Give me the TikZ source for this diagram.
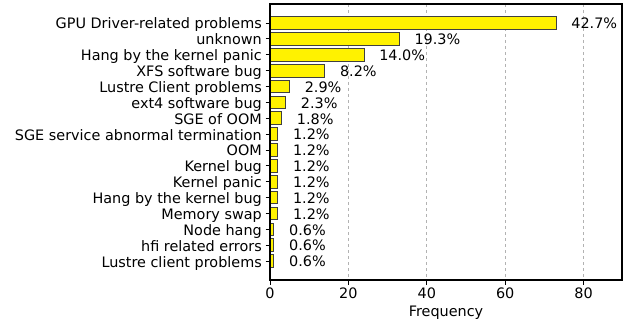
\documentclass[tikz,border=0pt]{standalone}
\usepackage{fontspec}
\setmainfont{DejaVu Sans}

\tikzset{
	bar/.style={draw=black!75,fill=yellow,line width=0.9pt},
	gridline/.style={black!30,dashed,line width=0.8pt},
	tickmark/.style={black,line width=0.9pt},
	lbl/.style={inner sep=0pt}
}

\begin{document}
\begin{tikzpicture}[x=1pt,y=-1pt,font=\fontsize{14.4}{17}\selectfont]
	\useasboundingbox (0,0) rectangle (626,323);
	\foreach \v in {20,40,60,80}
		\draw[gridline] ({270+3.92*\v},4) -- ({270+3.92*\v},280);
	\foreach \cause/\val/\pct [count=\i from 0] in {
			GPU Driver-related problems/73/42.7,
			unknown/33/19.3,
			Hang by the kernel panic/24/14.0,
			XFS software bug/14/8.2,
			Lustre Client problems/5/2.9,
			ext4 software bug/4/2.3,
			SGE of OOM/3/1.8,
			SGE service abnormal termination/2/1.2,
			OOM/2/1.2,
			Kernel bug/2/1.2,
			Kernel panic/2/1.2,
			Hang by the kernel bug/2/1.2,
			Memory swap/2/1.2,
			Node hang/1/0.6,
			hfi related errors/1/0.6,
			Lustre client problems/1/0.6}
	{
		\pgfmathsetmacro{\yc}{23+15.87*\i}
		\draw[bar] (270,{\yc-6.35}) rectangle ({270+3.92*\val},{\yc+6.35});
		\draw[tickmark] (265.5,\yc) -- (270,\yc);
		\node[lbl,anchor=base east] (cause\i) at (262,{\yc+6}) {\cause};
		\node[lbl,anchor=base west] (pct\i) at ({285+3.92*\val},{\yc+5.8}) {\pct\%};
	}
	% x axis
	\foreach \v in {0,20,40,60,80} {
		\draw[tickmark] ({270+3.92*\v},280) -- ({270+3.92*\v},284.5);
		\node[lbl,anchor=base] (xtick\v) at ({270+3.92*\v},298) {\v};
	}
	\node[lbl,anchor=base] (xlabel) at (446,316) {Frequency};
	\draw[line width=1.6pt] (270,4) rectangle (622,280);
\end{tikzpicture}
\end{document}
